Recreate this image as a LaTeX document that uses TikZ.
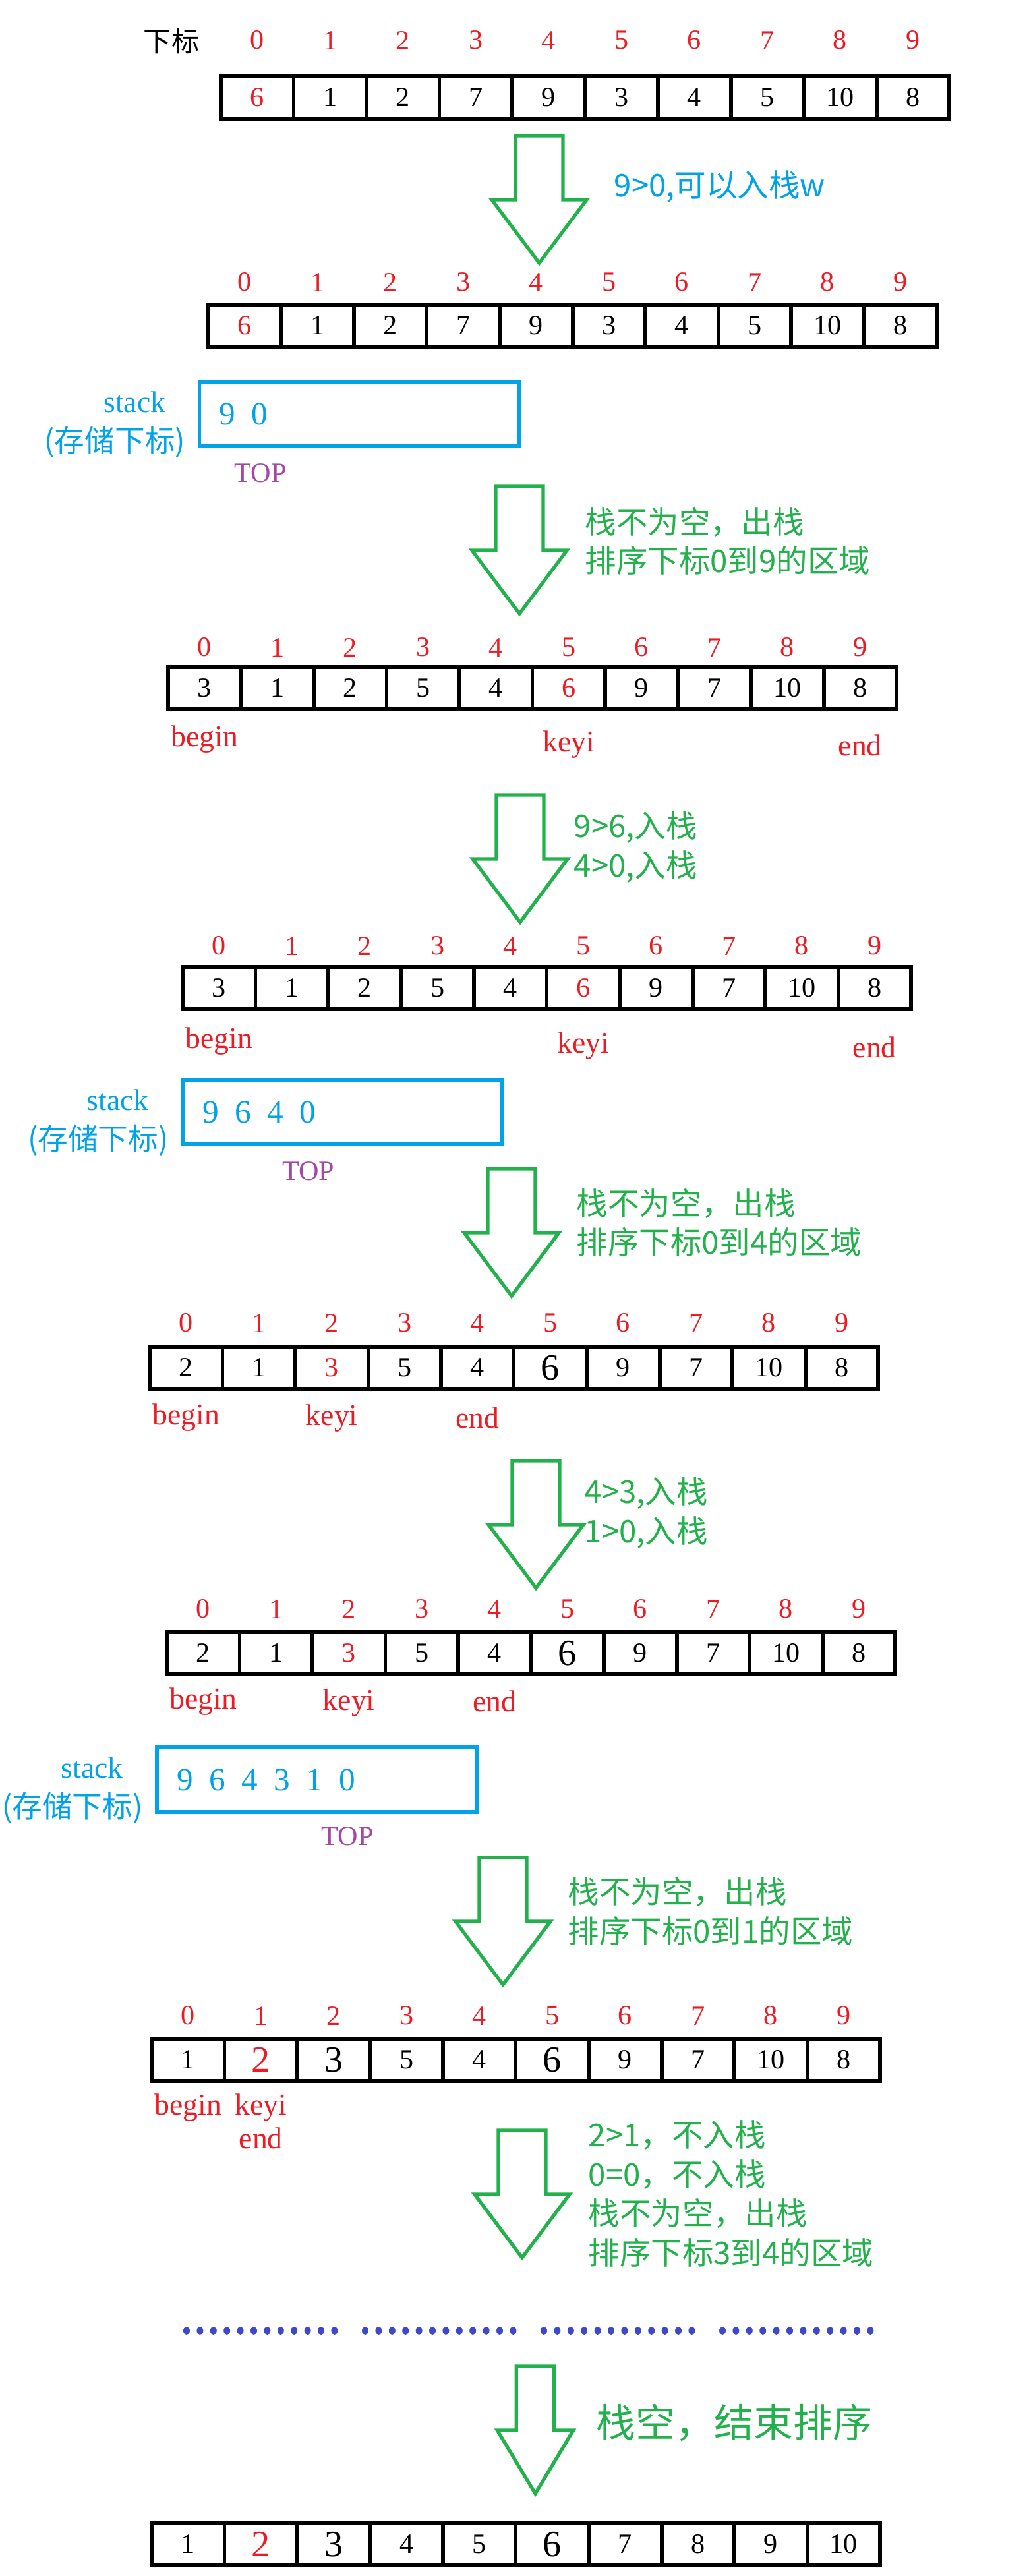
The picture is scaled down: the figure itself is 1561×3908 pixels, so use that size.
\documentclass[tikz,border=0pt]{standalone}
\usepackage{fontspec}
\setmainfont{Liberation Serif}
\newfontfamily\cjk{Noto Sans CJK SC}
\usepackage{tikz}
\usetikzlibrary{positioning}
\definecolor{idxRed}{HTML}{ED1C24}
\definecolor{stackBlue}{HTML}{00A2E8}
\definecolor{topPurple}{HTML}{A349A4}
\definecolor{noteGreen}{HTML}{22B14C}
\definecolor{dotBlue}{HTML}{3F48CC}

\begin{document}
\begin{tikzpicture}[x=0.1mm, y=-0.1mm,
  cell/.style={draw, line width=1.7pt, minimum width=11.05mm, minimum height=6.4mm,
    inner sep=0pt, outer sep=0pt, font=\fontsize{12}{14}\selectfont},
  val/.style={},
  valr/.style={text=idxRed},
  valb/.style={font=\fontsize{16}{18}\selectfont},
  valbr/.style={valb, text=idxRed},
  idx/.style={text=idxRed, inner sep=0pt, font=\fontsize{12}{14}\selectfont},
  ptr/.style={text=idxRed, inner sep=0pt, font=\fontsize{13}{15}\selectfont},
  stackbox/.style={draw=stackBlue, line width=1.5pt, minimum width=48.5mm,
    minimum height=9.8mm, inner sep=0pt},
  stacktxt/.style={text=stackBlue, inner sep=0pt, font=\fontsize{14}{16}\selectfont},
  stacklbl/.style={text=stackBlue, inner sep=0pt, align=right,
    font=\fontsize{13}{17}\selectfont},
  toplbl/.style={text=topPurple, inner sep=0pt, font=\fontsize{12}{14}\selectfont},
  note/.style={text=noteGreen, anchor=west, align=left, inner sep=0pt,
    font=\cjk\fontsize{13.5}{17}\selectfont},
  bigarrow/.style={draw=noteGreen, line width=1.5pt},
  downarrow/.pic={\draw[bigarrow] (-36,0) -- (36,0) -- (36,97) -- (72,97)
    -- (0,193) -- (-72,97) -- (-36,97) -- cycle;},
]
\fill[white] (0,0) rectangle (1561,3908);
\useasboundingbox (0,0) rectangle (1561,3908);

% Arrays
\foreach \vv/\st [count=\i from 0] in {6/valr,1/val,2/val,7/val,9/val,3/val,4/val,5/val,10/val,8/val}
  \node[cell,\st] (a1-\i) at ({335+110.5*\i+55.25},148) {\vv};
\foreach \vv/\st [count=\i from 0] in {6/valr,1/val,2/val,7/val,9/val,3/val,4/val,5/val,10/val,8/val}
  \node[cell,\st] (a2-\i) at ({316+110.5*\i+55.25},494) {\vv};
\foreach \vv/\st [count=\i from 0] in {3/val,1/val,2/val,5/val,4/val,6/valr,9/val,7/val,10/val,8/val}
  \node[cell,\st] (a3-\i) at ({255+110.5*\i+55.25},1044) {\vv};
\foreach \vv/\st [count=\i from 0] in {3/val,1/val,2/val,5/val,4/val,6/valr,9/val,7/val,10/val,8/val}
  \node[cell,\st] (a4-\i) at ({277+110.5*\i+55.25},1499) {\vv};
\foreach \vv/\st [count=\i from 0] in {2/val,1/val,3/valr,5/val,4/val,6/valb,9/val,7/val,10/val,8/val}
  \node[cell,\st] (a5-\i) at ({227+110.5*\i+55.25},2075) {\vv};
\foreach \vv/\st [count=\i from 0] in {2/val,1/val,3/valr,5/val,4/val,6/valb,9/val,7/val,10/val,8/val}
  \node[cell,\st] (a6-\i) at ({253+110.5*\i+55.25},2508) {\vv};
\foreach \vv/\st [count=\i from 0] in {1/val,2/valbr,3/valb,5/val,4/val,6/valb,9/val,7/val,10/val,8/val}
  \node[cell,\st] (a7-\i) at ({230+110.5*\i+55.25},3125) {\vv};
\foreach \vv/\st [count=\i from 0] in {1/val,2/valbr,3/valb,4/val,5/val,6/valb,7/val,8/val,9/val,10/val}
  \node[cell,\st] (a8-\i) at ({230+110.5*\i+55.25},3860) {\vv};

% Indices
\node[font=\cjk\fontsize{12}{14}\selectfont, inner sep=0pt] (xb) at (260,62) {下标};
\foreach \a/\gap in {1/4.0,2/1.9,3/1.5,4/1.7,5/2.1,6/2.0,7/2.0}
  \foreach \i in {0,...,9}
    \node[idx, above=\gap mm of a\a-\i] (i\a-\i) {\i};

% begin / keyi / end
\node[ptr, below=2.4mm of a3-0] (b3) {begin};
\node[ptr, below=3.2mm of a3-5] (k3) {keyi};
\node[ptr, below=3.8mm of a3-9] (e3) {end};
\node[ptr, below=2.7mm of a4-0] (b4) {begin};
\node[ptr, below=3.4mm of a4-5] (k4) {keyi};
\node[ptr, below=4.1mm of a4-9] (e4) {end};
\node[ptr, below=2.2mm of a5-0] (b5) {begin};
\node[ptr, below=2.3mm of a5-2] (k5) {keyi};
\node[ptr, below=2.7mm of a5-4] (e5) {end};
\node[ptr, below=2.0mm of a6-0] (b6) {begin};
\node[ptr, below=2.2mm of a6-2] (k6) {keyi};
\node[ptr, below=2.4mm of a6-4] (e6) {end};
\node[ptr, below=1.9mm of a7-0] (b7) {begin};
\node[ptr, below=1.9mm of a7-1] (k7) {keyi};
\node[ptr, below=7.0mm of a7-1] (e7) {end};

% Stacks
\node[stackbox] (s1) at (545,628) {};
\node[stacktxt, right=3.2mm of s1.west] (s1t) {9\enspace 0};
\node[stacklbl, left=1.8mm of s1, yshift=-1.6mm] (s1l) {stack\hspace*{3mm}\\{\cjk (存储下标)}};
\node[toplbl, below=5.8mm of s1t.south east, xshift=-1.2mm] (s1top) {TOP};

\node[stackbox] (s2) at (519.5,1687) {};
\node[stacktxt, right=3.2mm of s2.west] (s2t) {9\enspace 6\enspace 4\enspace 0};
\node[stacklbl, left=1.8mm of s2, yshift=-1.6mm] (s2l) {stack\hspace*{3mm}\\{\cjk (存储下标)}};
\node[toplbl, below=5.8mm of s2t.south east, xshift=-1.2mm] (s2top) {TOP};

\node[stackbox] (s3) at (480.5,2700) {};
\node[stacktxt, right=3.2mm of s3.west] (s3t) {9\enspace 6\enspace 4\enspace 3\enspace 1\enspace 0};
\node[stacklbl, left=1.8mm of s3, yshift=-1.6mm] (s3l) {stack\hspace*{3mm}\\{\cjk (存储下标)}};
\node[toplbl, below=5.4mm of s3t.south east, xshift=-1.2mm] (s3top) {TOP};

% Arrows
\pic at (818,206) {downarrow};
\pic at (788,738) {downarrow};
\pic at (789,1206) {downarrow};
\pic at (776,1773) {downarrow};
\pic at (813,2216) {downarrow};
\pic at (763,2818) {downarrow};
\pic at (792,3232) {downarrow};
\pic[xscale=0.8] at (812,3590) {downarrow};

% Notes
\node[note, text=stackBlue] (t1) at (931,283) {9>0,可以入栈w};
\node[note] (t2) at (887,821) {栈不为空，出栈\\排序下标0到9的区域};
\node[note] (t3) at (870,1285) {9>6,入栈\\4>0,入栈};
\node[note] (t4) at (874,1855) {栈不为空，出栈\\排序下标0到4的区域};
\node[note] (t5) at (886,2295) {4>3,入栈\\1>0,入栈};
\node[note] (t6) at (861,2899) {栈不为空，出栈\\排序下标0到1的区域};
\node[note] (t7) at (892,3328) {2>1，不入栈\\0=0，不入栈\\栈不为空，出栈\\排序下标3到4的区域};
\node[note, font=\cjk\fontsize{17}{20}\selectfont] (t8) at (904,3675) {栈空，结束排序};

% Dots
\foreach \g in {0,...,3}
  \foreach \k in {0,...,11}
    \fill[dotBlue] ({283+271*\g+20.4*\k},3536) ellipse[x radius=0.5mm, y radius=0.6mm];

\end{tikzpicture}
\end{document}
